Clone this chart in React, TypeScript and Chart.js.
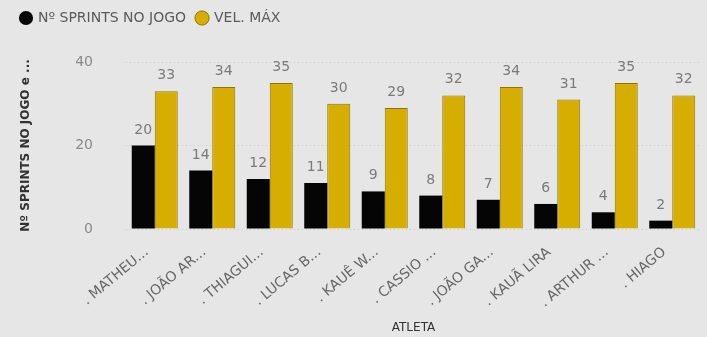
import React, { useEffect, useRef } from "react";
import { Chart, registerables } from "chart.js";

Chart.register(...registerables);

const athletes = [". MATHEU...", ". JOÃO AR...", ". THIAGUI...", ". LUCAS B...", ". KAUÊ W...", ". CASSIO ...", ". JOÃO GA...", ". KAUÃ LIRA", ". ARTHUR ...", ". HIAGO"];
const sprints = [20, 14, 12, 11, 9, 8, 7, 6, 4, 2];
const velMax = [33, 34, 35, 30, 29, 32, 34, 31, 35, 32];
const yTicks = [0, 20, 40];

const FONT = "'DejaVu Sans', 'Open Sans', sans-serif";

const legendHeight = {
  id: "legendHeight",
  beforeLayout(chart: any) {
    const lg = chart.legend;
    if (lg && !lg._patched) {
      const fit = lg.fit;
      lg.fit = function () {
        fit.call(this);
        this.height = 62;
      };
      lg._patched = true;
    }
  },
};

const dataLabels = {
  id: "dataLabels",
  afterDatasetsDraw(chart: any) {
    const ctx = chart.ctx;
    ctx.save();
    ctx.font = `14px ${FONT}`;
    ctx.fillStyle = "#7a7a7a";
    ctx.textAlign = "center";
    ctx.textBaseline = "alphabetic";
    chart.data.datasets.forEach((ds: any, i: number) => {
      const meta = chart.getDatasetMeta(i);
      meta.data.forEach((bar: any, j: number) => {
        ctx.fillText(String(ds.data[j]), bar.x, bar.y - 12);
      });
    });
    ctx.restore();
  },
};

const bgPlugin = {
  id: "bg",
  beforeDraw(chart: any) {
    const ctx = chart.ctx;
    ctx.save();
    ctx.fillStyle = "#e6e6e6";
    ctx.fillRect(0, 0, chart.width, chart.height);
    ctx.restore();
  },
};

export default function App() {
  const ref = useRef<HTMLCanvasElement>(null);
  useEffect(() => {
    document.body.style.margin = "0";
    document.body.style.background = "#e6e6e6";
    const chart = new Chart(ref.current!, {
      type: "bar",
      data: {
        labels: athletes,
        datasets: [
          {
            label: "Nº SPRINTS NO JOGO",
            data: sprints,
            backgroundColor: "#050505",
            borderColor: "#050505",
            borderWidth: 0,
            categoryPercentage: 0.8,
            barPercentage: 1.0,
          },
          {
            label: "VEL. MÁX",
            data: velMax,
            backgroundColor: "#d6ae00",
            borderColor: "#8f7400",
            borderWidth: 1,
            categoryPercentage: 0.8,
            barPercentage: 1.0,
          },
        ],
      },
      options: {
        animation: false,
        responsive: false,
        maintainAspectRatio: false,
        layout: { padding: { top: 0, left: 10, right: 6, bottom: 0 } },
        plugins: {
          legend: {
            display: true,
            position: "top",
            align: "start",
            labels: {
              usePointStyle: true,
              pointStyle: "circle",
              boxHeight: 10,
              boxWidth: 10,
              padding: 11,
              color: "#5a5a5a",
              font: { family: FONT, size: 14 },
            },
          },
          tooltip: { enabled: false },
        },
        scales: {
          x: {
            grid: { display: false, drawTicks: false },
            border: { display: false },
            ticks: {
              color: "#666666",
              font: { family: FONT, size: 14 },
              minRotation: 40,
              maxRotation: 40,
              autoSkip: false,
              padding: 15,
              labelOffset: -8,
            },
            title: {
              display: true,
              text: "ATLETA",
              color: "#333333",
              font: { family: FONT, size: 12 },
              padding: { top: 0, bottom: 2 },
            },
            afterFit(scale: any) {
              scale.height = 108;
            },
          },
          y: {
            min: 0,
            max: 40,
            afterBuildTicks(scale: any) {
              scale.ticks = yTicks.map((v) => ({ value: v }));
            },
            grid: { color: "rgba(0,0,0,0.12)", drawTicks: false, lineWidth: 1 },
            border: { display: false, dash: [1, 3] },
            ticks: {
              color: "#8a8a8a",
              font: { family: FONT, size: 14 },
              padding: 33,
            },
            title: {
              display: true,
              text: "Nº SPRINTS NO JOGO e ...",
              color: "#333333",
              font: { family: FONT, size: 12, weight: "bold" },
              padding: { top: 9, bottom: 0 },
            },
            afterFit(scale: any) {
              scale.width = 116;
            },
          },
        },
      },
      plugins: [bgPlugin, legendHeight, dataLabels],
    } as any);
    return () => chart.destroy();
  }, []);
  return (
    <div style={{ width: 707, height: 337, background: "#e6e6e6" }}>
      <canvas ref={ref} width={707} height={337} style={{ display: "block" }} />
    </div>
  );
}
